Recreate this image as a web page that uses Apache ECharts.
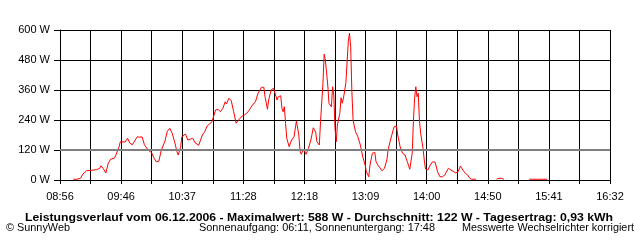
<!DOCTYPE html>
<html>
<head>
<meta charset="utf-8">
<script src="https://cdn.jsdelivr.net/npm/echarts@6/dist/echarts.min.js"></script>
<style>html,body{margin:0;padding:0;background:#fff}#c{width:640px;height:240px}</style>
</head>
<body>
<div id="c"></div>
<script>
// Time axis labels (every other grid line)
const tickLabels = ["08:56","09:46","10:37","11:28","12:18","13:09","14:00","14:50","15:41","16:32"];
const yTicks = [0,120,240,360,480,600];
const startTime = "08:56";
const endTime = "16:32";
const average = 122;

// Segment 1 of power curve (W)
const times1 = ["09:07","09:10","09:13","09:15","09:18","09:22","09:26","09:29","09:30","09:32","09:34","09:36","09:38","09:41","09:42","09:45","09:46","09:50","09:52","09:54","09:56","10:00","10:02","10:04","10:06","10:09","10:12","10:14","10:16","10:18","10:20","10:23","10:25","10:27","10:29","10:31","10:33","10:34","10:36","10:37","10:40","10:42","10:44","10:46","10:48","10:51","10:54","10:56","10:58","11:02","11:05","11:07","11:09","11:11","11:13","11:14","11:16","11:18","11:20","11:22","11:24","11:27","11:29","11:32","11:35","11:38","11:40","11:43","11:45","11:46","11:48","11:49","11:51","11:53","11:54","11:56","11:57","11:59","12:00","12:01","12:02","12:03","12:04","12:06","12:08","12:10","12:12","12:14","12:15","12:16","12:18","12:20","12:22","12:24","12:26","12:28","12:29","12:31","12:32","12:34","12:35","12:36","12:38","12:39","12:41","12:42","12:43","12:44","12:45","12:46","12:48","12:49","12:50","12:51","12:53","12:55","12:56","12:57","12:58","12:59","13:01","13:03","13:05","13:07","13:09","13:10","13:12","13:13","13:15","13:17","13:18","13:20","13:23","13:25","13:27","13:28","13:30","13:32","13:33","13:35","13:36","13:38","13:40","13:42","13:44","13:46","13:48","13:49","13:50","13:51","13:52","13:53","13:54","13:55","13:57","13:58","13:59","14:01","14:03","14:05","14:07","14:09","14:11","14:13","14:15","14:18","14:21","14:22","14:24","14:26","14:28","14:30","14:32","14:34","14:35","14:37","14:41"];
const watts1 = [3,3,7,24,37,39,41,47,57,45,28,67,83,87,96,133,153,152,167,147,141,173,171,173,141,120,109,87,72,76,120,155,195,207,187,153,113,100,131,173,184,160,163,167,149,139,180,193,216,233,280,283,273,287,313,304,327,317,273,227,240,256,260,273,296,313,344,371,371,333,283,320,360,367,364,320,333,337,287,273,293,227,167,133,160,173,236,180,116,103,124,103,127,160,209,191,153,140,233,387,503,480,380,307,293,373,340,207,153,220,267,329,307,327,387,553,588,533,353,240,193,173,140,93,60,33,13,60,107,111,73,57,37,47,80,120,160,196,213,216,180,133,107,100,73,43,107,233,327,373,333,347,240,187,127,80,44,40,60,73,71,33,13,13,20,47,37,33,29,33,56,40,27,20,11,3,3];
// Segment 2 (small bump)
const times2 = ["14:58","15:00","15:02","15:04"];
const watts2 = [3,7,7,3];
// Segment 3 (flat)
const times3 = ["15:25","15:40"];
const watts3 = [3,3];

function toMin(t){const p=t.split(':');return (+p[0])*60+(+p[1]);}
const t0 = toMin(startTime), span = toMin(endTime)-t0;
const data = [];
function addSeg(ts, ws){ for(let i=0;i<ts.length;i++) data.push([toMin(ts[i])-t0, ws[i]]); data.push([data[data.length-1][0]+0.5, null]); }
addSeg(times1, watts1); addSeg(times2, watts2); addSeg(times3, watts3);

const step = span/18, step2 = span/9;
const FONT = 'Liberation Sans';
const mctx = document.createElement('canvas').getContext('2d');
function fitText(text, font, x, y, align, targetW){
  mctx.font = font;
  const w = mctx.measureText(text).width;
  return {type:'text', x:x, y:y, scaleX: targetW/w, silent:true,
    style:{text:text, font:font, fill:'#000', align:align, verticalAlign:'middle', textAlign:align, textVerticalAlign:'middle'}};
}
const chart = echarts.init(document.getElementById('c'), null, {renderer:'canvas'});
chart.setOption({
  animation:false,
  backgroundColor:'#fff',
  grid:{left:60,right:30,top:30,bottom:60,containLabel:false},
  xAxis:{type:'value',min:0,max:span,interval:step,
    axisLine:{show:true,lineStyle:{color:'#000',width:1}},
    axisTick:{show:true,length:4,lineStyle:{color:'#000'}},
    splitLine:{show:true,lineStyle:{color:'#000',width:1}},
    axisLabel:{show:true,color:'#000',fontFamily:FONT,fontSize:11,margin:11,showMinLabel:true,showMaxLabel:true,
      formatter:function(v){const i=Math.round(v/step2);return Math.abs(v-i*step2)<0.01?(tickLabels[i]||''):'';}}
  },
  yAxis:{type:'value',min:yTicks[0],max:yTicks[yTicks.length-1],interval:yTicks[1]-yTicks[0],
    axisLine:{show:true,lineStyle:{color:'#000',width:1}},
    axisTick:{show:true,length:6,lineStyle:{color:'#000'}},
    splitLine:{show:true,lineStyle:{color:'#000',width:1}},
    axisLabel:{color:'#000',fontFamily:FONT,fontSize:11,margin:10,formatter:'{value} W'}
  },
  series:[{type:'line',data:data,showSymbol:false,symbol:'none',connectNulls:false,
    lineStyle:{color:'#ff0000',width:1},itemStyle:{color:'#ff0000'},
    markLine:{silent:true,symbol:'none',label:{show:false},animation:false,
      lineStyle:{color:'#808080',width:2,type:'solid'},data:[{yAxis:average}]}
  }],
  graphic:[
    fitText('Leistungsverlauf vom 06.12.2006 - Maximalwert: 588 W - Durchschnitt: 122 W - Tagesertrag: 0,93 kWh','bold 11px '+FONT,319,217.5,'center',588),
    fitText('© SunnyWeb','11px '+FONT,6,228,'left',64),
    fitText('Sonnenaufgang: 06:11, Sonnenuntergang: 17:48','11px '+FONT,199,228,'left',236),
    fitText('Messwerte Wechselrichter korrigiert','11px '+FONT,634,228,'right',172)
  ]
});
</script>
</body>
</html>
